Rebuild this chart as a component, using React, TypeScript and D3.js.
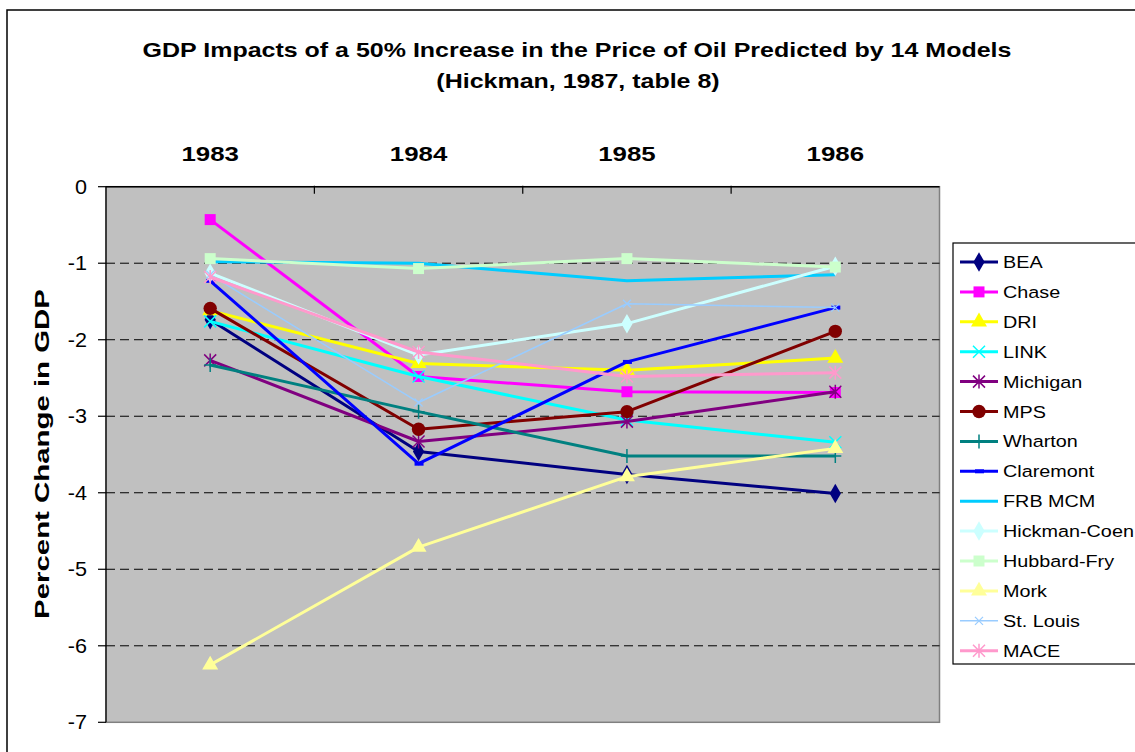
import React from 'react';
import * as d3 from 'd3';

const years = ['1983', '1984', '1985', '1986'];
const models = ['BEA', 'Chase', 'DRI', 'LINK', 'Michigan', 'MPS', 'Wharton', 'Claremont', 'FRB MCM', 'Hickman-Coen', 'Hubbard-Fry', 'Mork', 'St. Louis', 'MACE'];
const colors = ['#000080', '#FF00FF', '#FFFF00', '#00FFFF', '#800080', '#800000', '#008080', '#0000FF', '#00CCFF', '#CCFFFF', '#CCFFCC', '#FFFF99', '#99CCFF', '#FF99CC'];
const markers = ['diamond', 'square', 'triangle', 'x', 'star', 'circle', 'plus', 'dash', 'none', 'diamond', 'square', 'triangle', 'smallx', 'star'];

// percent change in GDP, one array per model (1983..1986)
const bea = [-1.74, -3.46, -3.76, -4.01];
const chase = [-0.43, -2.48, -2.68, -2.69];
const dri = [-1.62, -2.31, -2.40, -2.24];
const link = [-1.76, -2.48, -3.05, -3.34];
const michigan = [-2.27, -3.33, -3.07, -2.68];
const mps = [-1.59, -3.17, -2.94, -1.89];
const wharton = [-2.33, -2.94, -3.52, -3.52];
const claremont = [-1.23, -3.62, -2.29, -1.58];
const frbMcm = [-0.98, -1.0, -1.23, -1.15];
const hickmanCoen = [-1.13, -2.2, -1.79, -1.04];
const hubbardFry = [-0.94, -1.07, -0.94, -1.05];
const mork = [-6.25, -4.71, -3.79, -3.42];
const stLouis = [-1.15, -2.82, -1.53, -1.58];
const mace = [-1.18, -2.16, -2.48, -2.43];

const seriesValues = [bea, chase, dri, link, michigan, mps, wharton, claremont, frbMcm, hickmanCoen, hubbardFry, mork, stLouis, mace];
const yTicks = [0, -1, -2, -3, -4, -5, -6, -7];

const font = 'Arial, "Liberation Sans", sans-serif';

function Marker({ type, x, y, color }: { type: string; x: number; y: number; color: string }) {
  const t = `translate(${x},${y})`;
  if (type === 'diamond') return <path transform={t} d={d3.symbol(d3.symbolDiamond, 110)() as string} fill={color} />;
  if (type === 'square') return <path transform={t} d={d3.symbol(d3.symbolSquare, 121)() as string} fill={color} />;
  if (type === 'triangle') return <path transform={t} d={d3.symbol(d3.symbolTriangle, 110)() as string} fill={color} />;
  if (type === 'circle') return <path transform={t} d={d3.symbol(d3.symbolCircle, 140)() as string} fill={color} />;
  if (type === 'x') return <path transform={t} d="M-6,-6L6,6M-6,6L6,-6" stroke={color} strokeWidth={1.5} />;
  if (type === 'smallx') return <path transform={t} d="M-4,-4L4,4M-4,4L4,-4" stroke={color} strokeWidth={1.2} />;
  if (type === 'star') return <path transform={t} d="M-6,-6L6,6M-6,6L6,-6M0,-7L0,7" stroke={color} strokeWidth={1.5} />;
  if (type === 'plus') return <path transform={t} d="M-6,0L6,0M0,-7L0,7" stroke={color} strokeWidth={1.5} />;
  if (type === 'dash') return <path transform={t} d="M-4,0L5,0" stroke={color} strokeWidth={4} />;
  return null;
}

// text stretched horizontally like the original export
function WideText({ x, y, sx, children, ...rest }: any) {
  return (
    <text transform={`translate(${x},${y}) scale(${sx},1)`} {...rest}>{children}</text>
  );
}

export default function App() {
  const left = 106, right = 939.5, top = 186.7, bottom = 722.3;
  const x = d3.scaleBand().domain(years).range([left, right]);
  const y = d3.scaleLinear().domain([0, -7]).range([top, bottom]);
  const cx = (yr: string) => (x(yr) as number) + x.bandwidth() / 2;
  const line = d3.line<number>().x((_, i) => cx(years[i])).y(d => y(d));

  const legendX = 953, legendY = 243, rowH = 29.9;

  return (
    <svg width={1135} height={752} style={{ position: 'absolute', left: 0, top: 0, background: '#fff' }} fontFamily={font}>
      <rect x={7} y={10} width={1140} height={760} fill="#fff" stroke="#000" strokeWidth={1.5} />

      <WideText x={577} y={57} sx={1.19} textAnchor="middle" fontWeight="bold" fontSize={21}>
        GDP Impacts of a 50% Increase in the Price of Oil Predicted by 14 Models
      </WideText>
      <WideText x={578} y={88} sx={1.19} textAnchor="middle" fontWeight="bold" fontSize={21}>
        (Hickman, 1987, table 8)
      </WideText>

      {/* plot area */}
      <rect x={left} y={top} width={right - left} height={bottom - top} fill="#C0C0C0" stroke="#808080" strokeWidth={1.5} />
      {yTicks.filter(v => v !== 0 && v !== -7).map(v => (
        <line key={v} x1={left} x2={right} y1={y(v)} y2={y(v)} stroke="#000" strokeWidth={1} strokeDasharray="9,5" />
      ))}
      {/* top (category) axis */}
      <line x1={left} x2={right} y1={top} y2={top} stroke="#000" strokeWidth={1.5} />
      {years.slice(1).map(yr => (
        <line key={yr} x1={x(yr)} x2={x(yr)} y1={top - 1} y2={top + 7} stroke="#000" strokeWidth={1.2} />
      ))}
      {years.map(yr => (
        <WideText key={yr} x={cx(yr)} y={161} sx={1.23} textAnchor="middle" fontWeight="bold" fontSize={21}>{yr}</WideText>
      ))}
      {/* value axis */}
      <line x1={left} x2={left} y1={top} y2={bottom} stroke="#000" strokeWidth={1.2} />
      {yTicks.map(v => (
        <g key={v}>
          <line x1={left - 8} x2={left} y1={y(v)} y2={y(v)} stroke="#000" strokeWidth={1.2} />
          <WideText x={87} y={y(v) + 7} sx={1.08} textAnchor="end" fontSize={20}>{v}</WideText>
        </g>
      ))}
      <text transform={`translate(49,454) rotate(-90) scale(1.4,1)`} textAnchor="middle" fontWeight="bold" fontSize={21}>
        Percent Change in GDP
      </text>

      {/* series */}
      {seriesValues.map((vals, i) => (
        <g key={models[i]}>
          <path d={line(vals) as string} fill="none" stroke={colors[i]} strokeWidth={models[i] === 'St. Louis' ? 1.5 : 3} strokeLinejoin="round" />
          {vals.map((v, j) => (
            <Marker key={j} type={markers[i]} x={cx(years[j])} y={y(v)} color={colors[i]} />
          ))}
        </g>
      ))}

      {/* legend */}
      <rect x={legendX} y={legendY} width={200} height={421} fill="#fff" stroke="#000" strokeWidth={1.2} />
      {models.map((m, i) => {
        const ly = legendY + 19 + i * rowH;
        return (
          <g key={m}>
            <line x1={960} x2={998} y1={ly} y2={ly} stroke={colors[i]} strokeWidth={m === 'St. Louis' ? 1.5 : 3} />
            <Marker type={markers[i]} x={979} y={ly} color={colors[i]} />
            <WideText x={1003} y={ly + 6} sx={1.2} fontSize={16.5}>{m}</WideText>
          </g>
        );
      })}
    </svg>
  );
}
